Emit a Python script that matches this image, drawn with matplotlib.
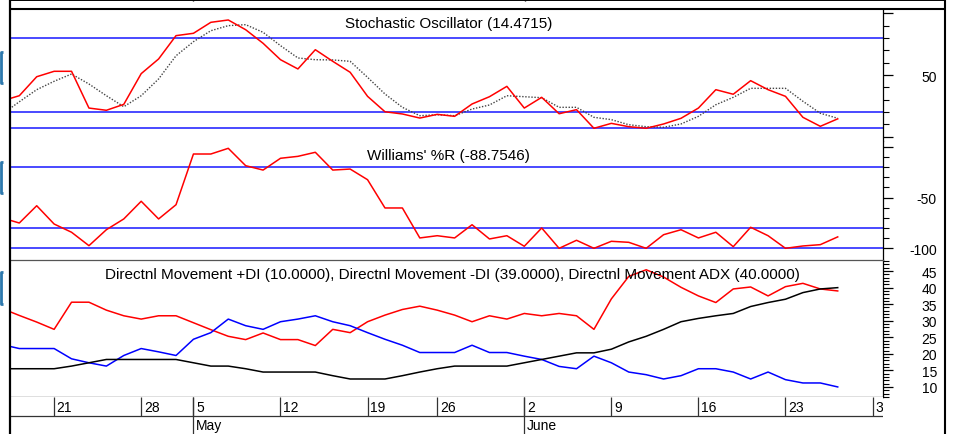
#!/usr/bin/env python3
"""
plot.py - stochastic / Williams %R / directional movement study panels,
three stacked indicator panes over a weekly date strip.
"""
import numpy as np
import matplotlib
matplotlib.use("Agg")
import matplotlib.pyplot as plt
from matplotlib.lines import Line2D
from matplotlib.ticker import FixedLocator, FixedFormatter, NullFormatter

# bar index (-1 is the bar just left of the visible window)
bars = np.arange(-1, 48)

stoch_k = [29.0, 33.2, 48.6, 53.0, 53.0, 23.2, 21.4, 26.2, 51.1, 63.0, 81.9,
           83.8, 92.7, 94.6, 86.7, 75.7, 62.4, 54.9, 70.5, 61.1, 52.2, 32.7,
           20.2, 18.4, 15.1, 18.1, 16.5, 26.5, 32.4, 40.8, 23.2, 31.9, 18.6,
           21.9, 6.8, 10.8, 8.1, 6.8, 10.3, 14.9, 23.2, 38.1, 34.4, 45.4, 38.1,
           32.7, 15.7, 8.4, 14.47]
stoch_d = [18.1, 28.3, 38.1, 44.9, 50.8, 42.7, 33.2, 24.3, 33.2, 46.8, 65.6,
           77.0, 85.9, 90.0, 90.8, 84.6, 73.8, 63.8, 62.4, 62.2, 61.1, 48.1,
           34.6, 23.8, 17.0, 17.8, 17.0, 22.4, 25.7, 33.2, 32.4, 31.6, 23.8,
           23.8, 15.7, 13.8, 9.7, 8.1, 7.6, 10.3, 16.5, 25.9, 31.9, 39.2, 39.2,
           39.2, 28.7, 19.0, 14.9]
williams = [-70.0, -75.1, -58.1, -76.1, -84.2, -97.4, -81.7, -71.1, -53.7,
            -71.1, -57.1, -7.2, -7.2, -1.6, -18.7, -23.0, -11.4, -9.5, -5.5,
            -23.0, -22.0, -32.5, -60.3, -60.3, -89.8, -87.6, -89.8, -76.8,
            -90.8, -87.6, -98.0, -80.0, -100.0, -92.1, -100.0, -93.1, -94.1,
            -100.0, -86.6, -81.7, -89.8, -84.2, -98.4, -79.3, -87.6, -100.0,
            -97.7, -96.4, -88.75]
di_minus = [33.7, 31.6, 29.6, 27.4, 35.6, 35.6, 33.2, 31.5, 30.5, 31.5, 31.5,
            29.4, 27.3, 25.3, 24.3, 26.3, 24.3, 24.3, 22.5, 27.4, 26.4, 29.7,
            31.7, 33.4, 34.4, 33.2, 31.7, 29.7, 31.5, 30.5, 32.2, 31.5, 32.2,
            31.5, 27.4, 36.6, 43.4, 45.4, 43.2, 40.1, 37.5, 35.5, 39.6, 40.2,
            37.5, 40.3, 41.3, 39.6, 39.0]
di_plus = [22.8, 21.6, 21.6, 21.6, 18.5, 17.3, 16.3, 19.5, 21.6, 20.6, 19.5,
           24.4, 26.4, 30.5, 28.5, 27.4, 29.7, 30.5, 31.5, 29.7, 28.5, 26.4,
           24.4, 22.6, 20.4, 20.4, 20.4, 22.6, 20.4, 20.4, 19.3, 18.3, 16.2,
           15.5, 19.3, 17.3, 14.5, 13.7, 12.4, 13.4, 15.5, 15.5, 14.5, 12.4,
           14.5, 12.2, 11.2, 11.2, 10.0]
adx = [15.5, 15.5, 15.5, 15.5, 16.3, 17.3, 18.3, 18.3, 18.3, 18.3, 18.3, 17.3,
       16.3, 16.3, 15.5, 14.5, 14.5, 14.5, 14.5, 13.4, 12.4, 12.4, 12.4, 13.4,
       14.5, 15.5, 16.3, 16.3, 16.3, 16.3, 17.3, 18.3, 19.3, 20.3, 20.3, 21.4,
       23.6, 25.3, 27.4, 29.7, 30.7, 31.5, 32.2, 34.3, 35.5, 36.5, 38.5, 39.6,
       40.0]

stoch_levels = [80, 20, 7]
williams_levels = [-20, -80, -100]

# date strip: bar index of each weekly divider and its label
week_bars = [2, 7, 10, 15, 20, 24, 29, 34, 39, 44, 49]
week_labels = ["21", "28", "5", "12", "19", "26", "2", "9", "16", "23", "30"]
month_bars = [10, 29]
month_labels = ["May", "June"]

W, H = 954, 435
RED = "#ff0000"
LEVEL = "#3c3cff"


def fx(x):
    return x / W


def fy(y):
    return 1 - y / H


def right_axis(ax, majors, labels, minors, pad_px=54):
    ax.yaxis.tick_right()
    ax.yaxis.set_major_locator(FixedLocator(majors))
    ax.yaxis.set_major_formatter(FixedFormatter(labels))
    ax.yaxis.set_minor_locator(FixedLocator(minors))
    ax.yaxis.set_minor_formatter(NullFormatter())
    ax.tick_params(axis="y", which="major", direction="out", length=7,
                   width=0.9, labelsize=10, pad=pad_px * 0.72 - 7)
    ax.tick_params(axis="y", which="minor", direction="out", length=4,
                   width=0.8)
    for lb in ax.get_yticklabels():
        lb.set_horizontalalignment("right")
    ax.tick_params(axis="x", which="both", bottom=False, labelbottom=False)


def main():
    plt.rcParams["font.family"] = ["Liberation Sans", "DejaVu Sans"]
    fig = plt.figure(figsize=(W / 100, H / 100), dpi=100)

    x0, x1 = 10, 883
    xlim = (-0.534, 49.6)

    ax_s = fig.add_axes([fx(x0), fy(142), fx(x1 - x0), (142 - 10) / H])
    ax_w = fig.add_axes([fx(x0), fy(261), fx(x1 - x0), (261 - 142) / H],
                        sharex=ax_s)
    ax_m = fig.add_axes([fx(x0), fy(398), fx(x1 - x0), (398 - 261) / H],
                        sharex=ax_s)
    ax_d = fig.add_axes([fx(x0), 0, fx(x1 - x0), (435 - 398) / H],
                        sharex=ax_s)

    for ax in (ax_s, ax_w, ax_m, ax_d):
        for s in ax.spines.values():
            s.set_visible(False)
        ax.set_facecolor("white")
    for ax in (ax_s, ax_w, ax_m):
        ax.spines["right"].set_visible(True)
        ax.spines["right"].set_linewidth(0.9)

    # stochastic
    for lv in stoch_levels:
        ax_s.axhline(lv, color=LEVEL, lw=1.3)
    ax_s.plot(bars, stoch_d, color="#444444", lw=1.0, ls=(0, (1, 1.2)))
    ax_s.plot(bars, stoch_k, color=RED, lw=1.1)
    ax_s.set_ylim(-3.5, 103.5)
    right_axis(ax_s, [0, 50, 100], ["", "50", ""],
               [10, 20, 30, 40, 60, 70, 80, 90])
    ax_s.text(0.502, 0.895, "Stochastic Oscillator (14.4715)",
              transform=ax_s.transAxes, ha="center", va="center", fontsize=11)

    # williams %R
    for lv in williams_levels:
        ax_w.axhline(lv, color=LEVEL, lw=1.3)
    ax_w.plot(bars, williams, color=RED, lw=1.1)
    ax_w.set_ylim(-111.5, 5.6)
    right_axis(ax_w, [-100, -50, 0], ["-100", "-50", ""],
               [-90, -80, -70, -60, -40, -30, -20, -10])
    ax_w.text(0.502, 0.885, "Williams' %R (-88.7546)",
              transform=ax_w.transAxes, ha="center", va="center", fontsize=11)

    # directional movement
    ax_m.spines["top"].set_visible(True)
    ax_m.spines["top"].set_color("#555555")
    ax_m.spines["top"].set_linewidth(0.9)
    ax_m.spines["bottom"].set_visible(True)
    ax_m.spines["bottom"].set_linewidth(0.9)
    ax_m.plot(bars, di_minus, color=RED, lw=1.1)
    ax_m.plot(bars, di_plus, color="#0000ff", lw=1.1)
    ax_m.plot(bars, adx, color="black", lw=1.1)
    ax_m.set_ylim(6.96, 48.35)
    right_axis(ax_m, list(range(10, 50, 5)),
               [str(v) for v in range(10, 50, 5)],
               [v for v in range(7, 49) if v % 5])
    ax_m.text(0.507, 0.9,
              "Directnl Movement +DI (10.0000), Directnl Movement -DI "
              "(39.0000), Directnl Movement ADX (40.0000)",
              transform=ax_m.transAxes, ha="center", va="center", fontsize=11)

    ax_s.set_xlim(*xlim)

    # date strip
    ax_d.set_ylim(0, 1)
    ax_d.set_xticks([])
    ax_d.set_yticks([])
    mid = (435 - 417) / 37
    ax_d.axhline(mid, color="#333333", lw=0.9)
    ax_d.vlines(week_bars, mid, 1, color="#333333", lw=0.9)
    ax_d.vlines(month_bars, 0, 1, color="#333333", lw=0.9)
    for b, lab in zip(week_bars, week_labels):
        ax_d.text(b + 0.15, (435 - 408) / 37, lab, ha="left", va="center",
                  fontsize=10, clip_on=True)
    for b, lab in zip(month_bars, month_labels):
        ax_d.text(b + 0.15, (435 - 426) / 37, lab, ha="left", va="center",
                  fontsize=10, clip_on=True)

    # outer frame lines
    def fline(xs, ys, lw=1.5, color="black"):
        fig.add_artist(Line2D([fx(v) for v in xs], [fy(v) for v in ys],
                              transform=fig.transFigure, color=color, lw=lw,
                              solid_capstyle="butt"))

    fline([10, 945], [1, 1], lw=1.4)
    fline([193, 193], [0, 1.5], lw=1.0)
    fline([525, 525], [0, 1.5], lw=1.0)
    fline([10, 945], [9.5, 9.5], lw=1.5)
    fline([10, 10], [0, 435], lw=1.6)
    fline([945, 945], [0, 435], lw=1.5)

    # blue pane markers at the far left
    for top, bot in [(53, 84), (163, 194), (273, 305)]:
        fline([3.5, 1, 1, 3.5], [top, top, bot, bot], lw=2.0, color="#2c78ad")

    fig.savefig("out.png", dpi=100)


if __name__ == "__main__":
    main()
